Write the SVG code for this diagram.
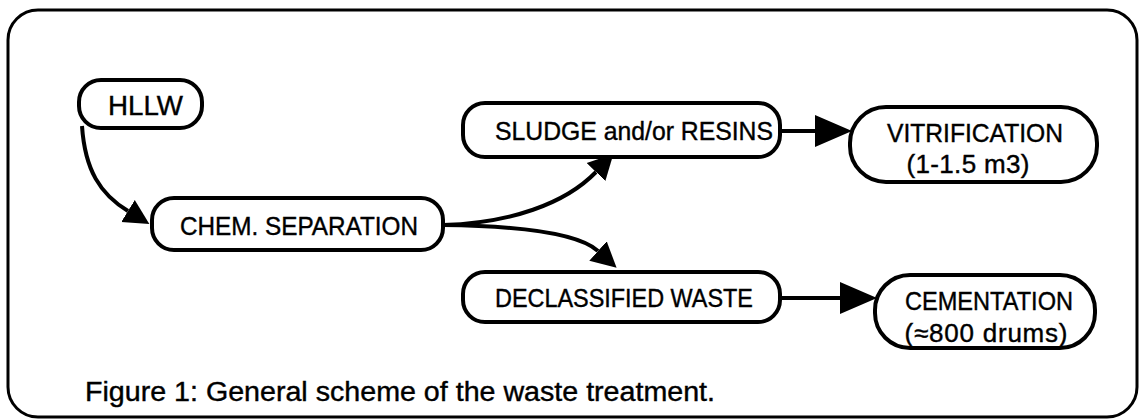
<svg xmlns="http://www.w3.org/2000/svg" width="1139" height="420" viewBox="0 0 1139 420">
<style>
  .box { fill: #fff; stroke: #000; stroke-width: 4; }
  .lbl { font-family: "Liberation Sans", Arial, Helvetica, sans-serif; font-size: 26px; fill: #000; stroke: #000; stroke-width: 0.4; text-anchor: middle; }
  .conn { fill: none; stroke: #000; stroke-width: 4; }
  .frame { fill: #fff; stroke: #000; stroke-width: 3; }
</style>
<defs>
  <marker id="ahBig" markerUnits="userSpaceOnUse" markerWidth="38" markerHeight="34" refX="0" refY="16" orient="auto" viewBox="0 0 38 32">
    <path d="M0,0 L37,16 L0,32 Z" fill="#000"/>
  </marker>
  <marker id="ahSmall" markerUnits="userSpaceOnUse" markerWidth="26" markerHeight="28" refX="0" refY="13" orient="auto" viewBox="0 0 26 26">
    <path d="M0,0 L25,13 L0,26 Z" fill="#000"/>
  </marker>
</defs>
<rect class="frame" x="8" y="10" width="1129" height="407" rx="30" ry="30"/>

<g id="connectors">
  <path class="conn" d="M82,126 C 85,170 100,194 128,211" marker-end="url(#ahSmall)"/>
  <path class="conn" d="M443,225 C 510,223 565,204 596,172" marker-end="url(#ahSmall)"/>
  <path class="conn" d="M443,225 C 520,226 578,233 598,251" marker-end="url(#ahSmall)"/>
  <path class="conn" d="M780,131 L815,131" stroke-width="3" marker-end="url(#ahBig)"/>
  <path class="conn" d="M780,298 L840,298" stroke-width="3" marker-end="url(#ahBig)"/>
</g>

<g id="hllw">
  <rect class="box" x="79" y="80" width="123" height="48" rx="22" ry="22"/>
  <text class="lbl" x="145.5" y="115" style="font-size:28px" textLength="75" lengthAdjust="spacingAndGlyphs">HLLW</text>
</g>
<g id="chem-separation">
  <rect class="box" x="152" y="198" width="291" height="52" rx="22" ry="22"/>
  <text class="lbl" x="299" y="235" textLength="238" lengthAdjust="spacingAndGlyphs">CHEM. SEPARATION</text>
</g>
<g id="sludge">
  <rect class="box" x="463" y="103" width="317" height="54" rx="22" ry="22"/>
  <text class="lbl" x="634" y="140" textLength="278" lengthAdjust="spacingAndGlyphs">SLUDGE and/or RESINS</text>
</g>
<g id="declassified">
  <rect class="box" x="463" y="272" width="317" height="50" rx="22" ry="22"/>
  <text class="lbl" x="624" y="307" textLength="258" lengthAdjust="spacingAndGlyphs">DECLASSIFIED WASTE</text>
</g>
<g id="vitrification">
  <rect class="box" x="850" y="107" width="247" height="75" rx="36" ry="36"/>
  <text class="lbl" x="975" y="142" textLength="176" lengthAdjust="spacingAndGlyphs">VITRIFICATION</text>
  <text class="lbl" x="968" y="173" textLength="123" lengthAdjust="spacing">(1-1.5 m3)</text>
</g>
<g id="cementation">
  <rect class="box" x="875" y="275" width="220" height="73" rx="35" ry="35"/>
  <text class="lbl" x="989" y="310" textLength="168" lengthAdjust="spacingAndGlyphs">CEMENTATION</text>
  <text class="lbl" x="986" y="342" textLength="163" lengthAdjust="spacing">(≈800 drums)</text>
</g>

<text class="lbl" x="85" y="401" style="text-anchor:start; font-size:27px" textLength="630" lengthAdjust="spacingAndGlyphs">Figure 1: General scheme of the waste treatment.</text>
</svg>
